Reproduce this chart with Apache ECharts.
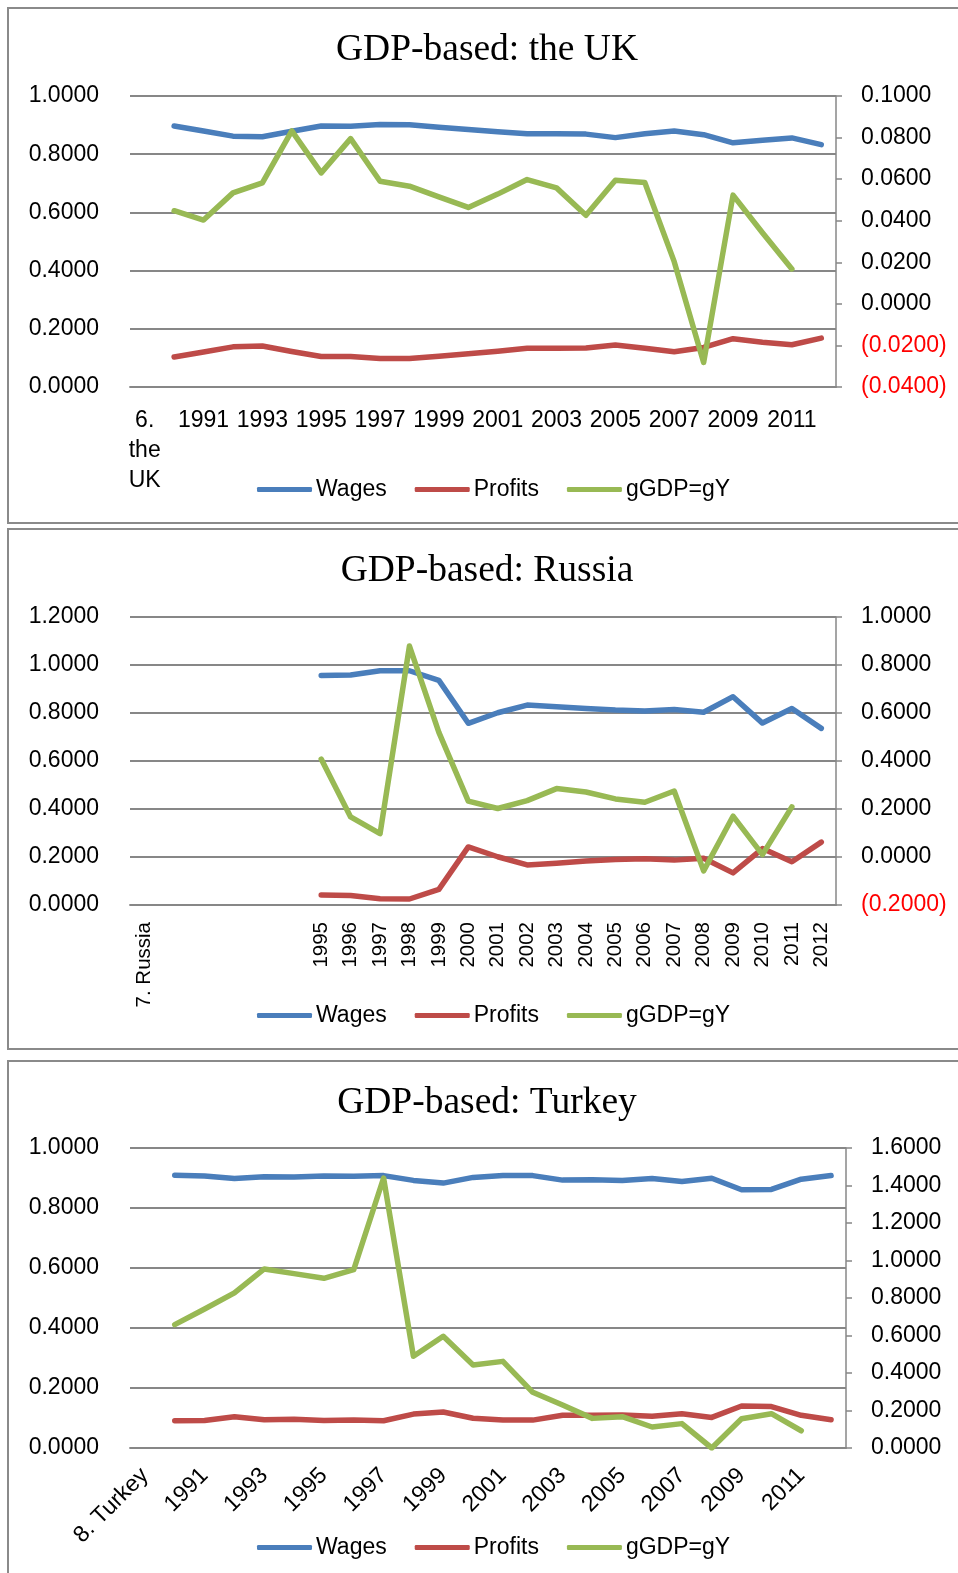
<!DOCTYPE html>
<html>
<head>
<meta charset="utf-8">
<title>GDP-based shares</title>
<script src="https://cdn.jsdelivr.net/npm/echarts@6/dist/echarts.min.js"></script>
<style>
	html, body { margin: 0; padding: 0; background: #fff; }
	#chart { width: 958px; height: 1573px; }
</style>
</head>
<body>
<div id="chart"></div>
<script>
/* ---------- data ---------- */
var years = ['1990', '1991', '1992', '1993', '1994', '1995', '1996', '1997', '1998', '1999', '2000', '2001',
	'2002', '2003', '2004', '2005', '2006', '2007', '2008', '2009', '2010', '2011', '2012'];
var ruYears = ['1995', '1996', '1997', '1998', '1999', '2000', '2001', '2002', '2003', '2004', '2005', '2006',
	'2007', '2008', '2009', '2010', '2011', '2012'];

var ukCats = ['6.\nthe\nUK'].concat(years);
var ruCats = ['7. Russia', '', '', '', '', ''].concat(ruYears);
var trCats = ['8. Turkey'].concat(years);

// the UK, 1990-2012
var ukWages = [0.897, 0.880, 0.862, 0.860, 0.879, 0.897, 0.896, 0.902, 0.901, 0.893, 0.885, 0.877,
	0.870, 0.870, 0.869, 0.857, 0.870, 0.880, 0.867, 0.839, 0.848, 0.856, 0.833];
var ukProfits = [0.103, 0.120, 0.138, 0.141, 0.122, 0.105, 0.105, 0.098, 0.098, 0.106, 0.114, 0.123,
	0.133, 0.133, 0.134, 0.144, 0.133, 0.121, 0.136, 0.166, 0.154, 0.145, 0.168];
var ukGrowth = [0.0448, 0.0403, 0.0534, 0.0582, 0.0832, 0.0630, 0.0795, 0.0590, 0.0566, 0.0515, 0.0464, 0.0528,
	0.0598, 0.0558, 0.0426, 0.0595, 0.0584, 0.0203, -0.0282, 0.0523, 0.0342, 0.0168, null];

// Russia, 1995-2012
var ruWages = [0.956, 0.958, 0.976, 0.976, 0.936, 0.757, 0.801, 0.833, 0.826, 0.819, 0.812, 0.808,
	0.815, 0.803, 0.868, 0.758, 0.819, 0.736];
var ruProfits = [0.042, 0.040, 0.026, 0.025, 0.065, 0.242, 0.201, 0.167, 0.174, 0.183, 0.190, 0.193,
	0.187, 0.195, 0.134, 0.235, 0.180, 0.262];
var ruGrowth = [0.408, 0.167, 0.097, 0.879, 0.519, 0.233, 0.202, 0.235, 0.285, 0.271, 0.242, 0.228,
	0.275, -0.058, 0.170, 0.010, 0.209, null];

// Turkey, 1990-2012
var trWages = [0.909, 0.907, 0.898, 0.904, 0.903, 0.907, 0.906, 0.908, 0.892, 0.883, 0.902, 0.908,
	0.908, 0.893, 0.894, 0.892, 0.898, 0.888, 0.899, 0.861, 0.862, 0.896, 0.908];
var trProfits = [0.091, 0.092, 0.104, 0.094, 0.096, 0.092, 0.093, 0.091, 0.113, 0.120, 0.099, 0.093,
	0.093, 0.109, 0.109, 0.110, 0.106, 0.114, 0.102, 0.140, 0.138, 0.109, 0.094];
var trGrowth = [0.658, 0.741, 0.827, 0.955, 0.930, 0.905, 0.951, 1.440, 0.489, 0.596, 0.443, 0.462,
	0.297, 0.229, 0.158, 0.167, 0.112, 0.130, 0.000, 0.156, 0.183, 0.092, null];

var seriesNames = ['Wages', 'Profits', 'gGDP=gY'];
var titles = ['GDP-based: the UK', 'GDP-based: Russia', 'GDP-based: Turkey'];

/* ---------- style ---------- */
var SANS = '"Liberation Sans", Arial, sans-serif';
var SERIF = '"Liberation Serif", "Times New Roman", serif';
var GRID_COLOR = '#878787';
var colors = ['#4a7ebb', '#be4b48', '#98b954'];

function pad(n, arr) {
	var out = [];
	for (var i = 0; i < n; i++) out.push(null);
	return out.concat(arr);
}

function leftFmt(v) {
	return v.toFixed(4);
}

function rightFmt(v) {
	if (v < -1e-9) return '{neg|(' + Math.abs(v).toFixed(4) + ')}';
	return Math.abs(v).toFixed(4);
}

/* 3 panels: grid box, axis ranges, category labels */
var panels = [
	{ top: 96, height: 291, width: 706, cats: ukCats, lmax: 1, rmin: -0.04, rmax: 0.1, rint: 0.02,
		data: [pad(1, ukWages), pad(1, ukProfits), pad(1, ukGrowth)],
		titleY: 50, legendY: 490, border: [8, 515] },
	{ top: 617, height: 288, width: 706, cats: ruCats, lmax: 1.2, rmin: -0.2, rmax: 1.0, rint: 0.2,
		data: [pad(6, ruWages), pad(6, ruProfits), pad(6, ruGrowth)],
		titleY: 571, legendY: 1016, border: [529, 520] },
	{ top: 1148, height: 300, width: 716, cats: trCats, lmax: 1, rmin: 0, rmax: 1.6, rint: 0.2,
		data: [pad(1, trWages), pad(1, trProfits), pad(1, trGrowth)],
		titleY: 1103, legendY: 1548, border: [1061, 600] }
];

var xLabelStyle = [
	{ interval: 1, rotate: 0, fontSize: 23, lineHeight: 30, margin: 19 },
	{ interval: 0, rotate: 90, fontSize: 20.5, margin: 17 },
	{ interval: 1, rotate: 45, fontSize: 23, margin: 24 }
];

var option = {
	animation: false,
	backgroundColor: '#fff',
	title: [],
	legend: [],
	grid: [],
	xAxis: [],
	yAxis: [],
	series: [],
	graphic: []
};

for (var p = 0; p < panels.length; p++) {
	var pn = panels[p];

	option.graphic.push({
		type: 'rect',
		shape: { x: 8, y: pn.border[0], width: 990, height: pn.border[1] },
		style: { fill: 'none', stroke: '#8a8a8a', lineWidth: 2 },
		silent: true
	});

	option.title.push({
		text: titles[p],
		left: 487,
		top: pn.titleY - 19,
		padding: 0,
		textAlign: 'center',
		textStyle: { fontFamily: SERIF, fontSize: 37.5, fontWeight: 'normal', color: '#000' }
	});

	option.legend.push({
		data: seriesNames,
		left: 257,
		top: pn.legendY - 12,
		padding: 0,
		icon: 'roundRect',
		itemWidth: 55,
		itemHeight: 5,
		itemGap: 28,
		selectedMode: false,
		textStyle: { fontFamily: SANS, fontSize: 23, color: '#000', padding: [0, 0, 0, -1] }
	});

	option.grid.push({
		left: 130,
		top: pn.top,
		width: pn.width,
		height: pn.height,
		outerBoundsMode: 'none'
	});

	var xl = xLabelStyle[p];
	option.xAxis.push({
		type: 'category',
		gridIndex: p,
		data: pn.cats,
		boundaryGap: true,
		axisLine: { show: true, lineStyle: { color: GRID_COLOR, width: 1.8 } },
		axisTick: { show: false },
		axisLabel: {
			interval: xl.interval,
			rotate: xl.rotate,
			margin: xl.margin,
			color: '#000',
			fontFamily: SANS,
			fontSize: xl.fontSize,
			lineHeight: xl.lineHeight
		},
		splitLine: { show: false }
	});

	option.yAxis.push({
		type: 'value',
		gridIndex: p,
		position: 'left',
		min: 0,
		max: pn.lmax,
		interval: 0.2,
		axisLine: { show: false },
		axisTick: { show: false },
		axisLabel: { formatter: leftFmt, color: '#000', fontFamily: SANS, fontSize: 23, margin: 31 },
		splitLine: { show: true, lineStyle: { color: GRID_COLOR, width: 1.8 } }
	});

	option.yAxis.push({
		type: 'value',
		gridIndex: p,
		position: 'right',
		min: pn.rmin,
		max: pn.rmax,
		interval: pn.rint,
		axisLine: { show: true, lineStyle: { color: GRID_COLOR, width: 1.5 } },
		axisTick: { show: true, inside: false, length: 6, lineStyle: { color: GRID_COLOR, width: 1.5 } },
		axisLabel: {
			formatter: rightFmt,
			color: '#000',
			fontFamily: SANS,
			fontSize: 23,
			margin: 25,
			rich: { neg: { color: '#ff0000', fontFamily: SANS, fontSize: 23 } }
		},
		splitLine: { show: false }
	});

	for (var s = 0; s < 3; s++) {
		option.series.push({
			name: seriesNames[s],
			type: 'line',
			xAxisIndex: p,
			yAxisIndex: p * 2 + (s === 2 ? 1 : 0),
			data: pn.data[s],
			symbol: 'none',
			connectNulls: false,
			color: colors[s],
			lineStyle: { width: 5.5, color: colors[s], cap: 'round', join: 'round' },
			z: 2 + s
		});
	}
}

var chart = echarts.init(document.getElementById('chart'), null, { renderer: 'canvas' });
chart.setOption(option);
</script>
</body>
</html>
